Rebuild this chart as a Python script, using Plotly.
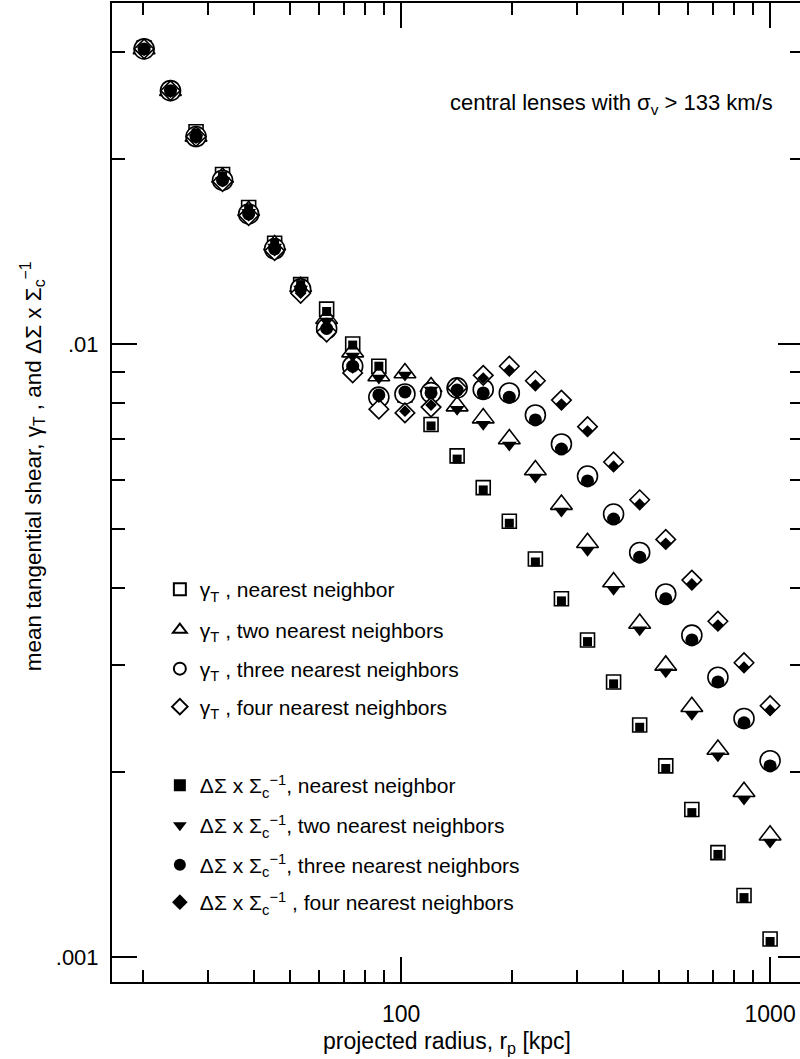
import plotly.graph_objects as go

# projected radius bins [kpc]
radius = [20.1, 23.7, 27.8, 32.8, 38.6, 45.4, 53.4, 62.8, 73.9, 87.0, 102.4,
          120.5, 141.8, 166.9, 196.4, 231.1, 271.9, 320.0, 376.5, 443.1,
          521.4, 613.6, 722.1, 849.8, 1000.0]

# gamma_T (open symbols)
gamma_nn1 = [0.0304, 0.0259, 0.0222, 0.0189, 0.0167, 0.0146, 0.0125, 0.0114, 0.0100, 0.0092,
             0.00826, 0.00739, 0.00657, 0.00583, 0.00514, 0.00446, 0.00384, 0.00329, 0.00281,
             0.00239, 0.00205, 0.00174, 0.00148, 0.00126, 0.00107]
gamma_nn2 = [0.0303, 0.0259, 0.0218, 0.0187, 0.0165, 0.0145, 0.0124, 0.0110, 0.0097, 0.00887,
             0.00897, 0.00851, 0.00792, 0.00757, 0.00700, 0.00623, 0.00547, 0.00474, 0.00409,
             0.00350, 0.00299, 0.00256, 0.00218, 0.00186, 0.00158]
gamma_nn3 = [0.0303, 0.0259, 0.0218, 0.0185, 0.0163, 0.0143, 0.0123, 0.0106, 0.0092, 0.00819,
             0.00829, 0.00833, 0.00848, 0.00843, 0.00832, 0.00766, 0.00687, 0.00609, 0.00528,
             0.00457, 0.00391, 0.00335, 0.00286, 0.00245, 0.00209]
gamma_nn4 = [0.0303, 0.0259, 0.0218, 0.0184, 0.0162, 0.0142, 0.0121, 0.01046, 0.00897, 0.00783,
             0.00772, 0.00789, 0.00848, 0.00889, 0.00920, 0.00871, 0.00810, 0.00733, 0.00642,
             0.00557, 0.00480, 0.00412, 0.00353, 0.00302, 0.00257]

# Delta Sigma x Sigma_c^-1 (filled symbols)
dsig_nn1 = [0.0303, 0.0259, 0.0221, 0.0188, 0.0166, 0.0146, 0.0125, 0.0113, 0.00996, 0.0092,
            0.00835, 0.00735, 0.00649, 0.00578, 0.00510, 0.00441, 0.00381, 0.00327, 0.00279,
            0.00237, 0.00203, 0.00172, 0.00147, 0.00125, 0.00106]
dsig_nn2 = [0.0302, 0.0258, 0.0217, 0.0185, 0.0164, 0.0144, 0.0123, 0.0109, 0.00956, 0.0088,
            0.0089, 0.00841, 0.00783, 0.00740, 0.00684, 0.00607, 0.00534, 0.00461, 0.00398,
            0.00342, 0.00292, 0.00249, 0.00213, 0.00181, 0.00154]
dsig_nn3 = [0.0303, 0.0259, 0.0218, 0.0185, 0.0163, 0.0143, 0.0123, 0.0106, 0.0092, 0.00826,
            0.00835, 0.00832, 0.00841, 0.00832, 0.00819, 0.00752, 0.00674, 0.00598, 0.00518,
            0.00449, 0.00384, 0.00329, 0.00281, 0.00241, 0.00205]
dsig_nn4 = [0.0303, 0.0259, 0.0218, 0.0184, 0.0162, 0.0142, 0.0121, 0.01066, 0.00914, 0.00819,
            0.00777, 0.00795, 0.00838, 0.00880, 0.00907, 0.00857, 0.00798, 0.00721, 0.00632,
            0.00548, 0.00473, 0.00406, 0.00348, 0.00297, 0.00253]

x_major = [100, 1000]
x_major_text = ["100", "1000"]
x_minor = [20, 30, 40, 50, 60, 70, 80, 90, 200, 300, 400, 500, 600, 700, 800, 900]
y_major = [0.001, 0.01]
y_major_text = [".001", ".01"]
y_minor = [0.002, 0.003, 0.004, 0.005, 0.006, 0.007, 0.008, 0.009, 0.02, 0.03]

FONT = "Liberation Sans, Arial, Helvetica, sans-serif"

gamma_names = ["γ<sub>T</sub> , nearest neighbor",
               "γ<sub>T</sub> , two nearest neighbors",
               "γ<sub>T</sub> , three nearest neighbors",
               "γ<sub>T</sub> , four nearest neighbors"]
dsig_names = ["ΔΣ x Σ<sub>c</sub><sup>−1</sup>, nearest neighbor",
              "ΔΣ x Σ<sub>c</sub><sup>−1</sup>, two nearest neighbors",
              "ΔΣ x Σ<sub>c</sub><sup>−1</sup>, three nearest neighbors",
              "ΔΣ x Σ<sub>c</sub><sup>−1</sup> , four nearest neighbors"]

open_specs = [(gamma_nn1, "square", 14), (gamma_nn2, "triangle-up", 19),
              (gamma_nn3, "circle", 20), (gamma_nn4, "diamond", 15)]
fill_specs = [(dsig_nn1, "square", 9), (dsig_nn2, "triangle-down", 13),
              (dsig_nn3, "circle", 13), (dsig_nn4, "diamond", 9)]

legend_ids = ["legend", "legend2", "legend3", "legend4",
              "legend5", "legend6", "legend7", "legend8"]
legend_rows_px = [589.5, 630, 669, 707, 785.5, 825.5, 865, 902.5]

fig = go.Figure()
for i, (vals, sym, sz) in enumerate(open_specs):
    fig.add_trace(go.Scatter(
        x=radius, y=vals, mode="markers", name=gamma_names[i],
        legend=legend_ids[i],
        marker=dict(symbol=sym, size=sz, color="white",
                    line=dict(color="black", width=1.6))))
for i, (vals, sym, sz) in enumerate(fill_specs):
    fig.add_trace(go.Scatter(
        x=radius, y=vals, mode="markers", name=dsig_names[i],
        legend=legend_ids[4 + i],
        marker=dict(symbol=sym, size=sz, color="black",
                    line=dict(color="black", width=0))))

FIG_W, FIG_H = 805, 1059
PL, PR, PT, PB = 112, 805, 3, 982
W, H = PR - PL, PB - PT
leg_x = (160 - PL) / W
legend_layouts = {}
for lid, ypx in zip(legend_ids, legend_rows_px):
    legend_layouts[lid] = dict(
        x=leg_x, y=(PB - ypx) / H, xanchor="left", yanchor="middle",
        bgcolor="rgba(0,0,0,0)", borderwidth=0, itemsizing="constant",
        font=dict(family=FONT, size=21, color="black"))

fig.update_layout(
    width=FIG_W, height=FIG_H,
    margin=dict(l=PL, r=FIG_W - PR, t=PT, b=FIG_H - PB, pad=0),
    paper_bgcolor="white", plot_bgcolor="white",
    font=dict(family=FONT, size=21, color="black"),
    showlegend=True,
    **legend_layouts,
)

fig.update_xaxes(
    type="log", range=[1.2162, 3.0892],
    showgrid=False, zeroline=False,
    showline=True, linecolor="black", linewidth=2, mirror="ticks",
    ticks="inside", ticklen=25, tickwidth=1.5, tickcolor="black",
    tickmode="array", tickvals=x_major, ticktext=x_major_text,
    tickfont=dict(family=FONT, size=23, color="black"),
    ticklabelstandoff=10,
    minor=dict(tickmode="array", tickvals=x_minor, ticks="inside",
               ticklen=12, tickwidth=1.5, tickcolor="black", showgrid=False),
)
fig.update_yaxes(
    type="log", range=[-3.0408, -1.4437],
    showgrid=False, zeroline=False,
    showline=True, linecolor="black", linewidth=2, mirror="ticks",
    ticks="inside", ticklen=25, tickwidth=1.5, tickcolor="black",
    tickmode="array", tickvals=y_major, ticktext=y_major_text,
    tickfont=dict(family=FONT, size=22, color="black"),
    ticklabelstandoff=7,
    minor=dict(tickmode="array", tickvals=y_minor, ticks="inside",
               ticklen=13, tickwidth=1.5, tickcolor="black", showgrid=False),
)

fig.add_annotation(
    text="central lenses with σ<sub>v</sub> &gt; 133 km/s",
    xref="paper", yref="paper", x=(777 - PL) / W, y=(PB - 104) / H,
    xanchor="right", yanchor="middle", showarrow=False,
    font=dict(family=FONT, size=22, color="black"))
fig.add_annotation(
    text="projected radius, r<sub>p</sub> [kpc]",
    xref="paper", yref="paper", x=(448 - PL) / W, y=(PB - 1042) / H,
    xanchor="center", yanchor="middle", showarrow=False,
    font=dict(family=FONT, size=23, color="black"))
fig.add_annotation(
    text="mean tangential shear, γ<sub>T</sub> , and ΔΣ x Σ<sub>c</sub><sup>−1</sup>",
    xref="paper", yref="paper", x=(33 - PL) / W, y=(PB - 466) / H,
    xanchor="center", yanchor="middle", textangle=-90, showarrow=False,
    font=dict(family=FONT, size=22.5, color="black"))

fig.write_html(
    "out.html",
    config={"displayModeBar": False},
    post_script=("document.body.style.margin='0px';"
                 "document.body.style.overflow='hidden';"
                 "document.documentElement.style.overflow='hidden';"),
)
